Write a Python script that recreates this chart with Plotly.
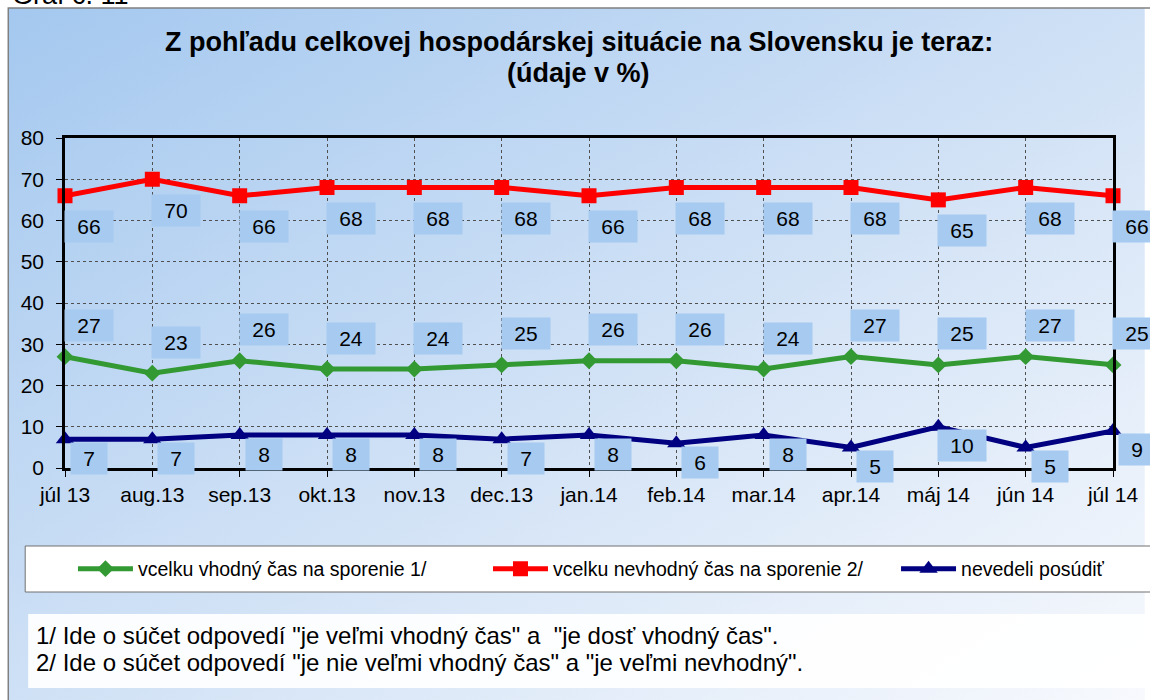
import base64
import plotly.graph_objects as go

# data (%)
months = ['júl 13', 'aug.13', 'sep.13', 'okt.13', 'nov.13', 'dec.13', 'jan.14',
          'feb.14', 'mar.14', 'apr.14', 'máj 14', 'jún 14', 'júl 14']
vhodny = [27, 23, 26, 24, 24, 25, 26, 26, 24, 27, 25, 27, 25]
nevhodny = [66, 70, 66, 68, 68, 68, 66, 68, 68, 68, 65, 68, 66]
nevedeli = [7, 7, 8, 8, 8, 7, 8, 6, 8, 5, 10, 5, 9]

names = ['vcelku vhodný čas na sporenie 1/',
         'vcelku nevhodný čas na sporenie 2/',
         'nevedeli posúdiť']
title_lines = ['Z pohľadu celkovej hospodárskej situácie na Slovensku je teraz:', '(údaje v %)']
notes = ['1/ Ide o súčet odpovedí "je veľmi vhodný čas" a  "je dosť vhodný čas".',
         '2/ Ide o súčet odpovedí "je nie veľmi vhodný čas" a "je veľmi nevhodný".']

W, H = 1150, 700
L, R, T, B = 65, 32, 138, 232
PW, PH = W - L - R, H - T - B
FONT = 'Liberation Sans, Arial, sans-serif'


def px(x):
    return (x - L) / PW


def py(y):
    return (H - B - y) / PH


fig = go.Figure()

# colour, marker, marker size, label shift x/y, legend id, legend x
series = [
    (vhodny, names[0], '#339933', 'diamond', 13, 24, 31, 'legend', 73),
    (nevhodny, names[1], '#ff0000', 'square', 15, 24, -31, 'legend2', 490),
    (nevedeli, names[2], '#000080', 'triangle-up', 16, 24, -19, 'legend3', 900),
]

annotations = []
legends = {}
for vals, name, col, sym, msize, dx, dy, leg, lx in series:
    fig.add_trace(go.Scatter(
        x=months, y=vals, name=name, mode='lines+markers',
        line=dict(color=col, width=5),
        marker=dict(symbol=sym, size=msize, color=col),
        cliponaxis=False, legend=leg,
    ))
    legends[leg] = dict(orientation='h', x=px(lx), y=py(569), xanchor='left', yanchor='middle',
                        bgcolor='rgba(0,0,0,0)', borderwidth=0, itemwidth=55,
                        font=dict(size=19.5, color='black', family=FONT))
    for m, v in zip(months, vals):
        t = str(v)
        annotations.append(dict(
            x=m, y=v, xref='x', yref='y', text=t, showarrow=False,
            xshift=dx, yshift=dy, bgcolor='#a6caf0', borderpad=4,
            width=12 * len(t) + 16, font=dict(size=21, color='black', family=FONT),
        ))

# title lines
for txt, yy in zip(title_lines, [42, 73]):
    annotations.append(dict(
        x=px(581), y=py(yy), xref='paper', yref='paper', xanchor='center', yanchor='middle',
        showarrow=False, text='<b>' + txt + '</b>',
        font=dict(size=27, color='black', family=FONT),
    ))

# footnotes
for txt, yy in zip(notes, [635, 662]):
    annotations.append(dict(
        x=px(34), y=py(yy), xref='paper', yref='paper', xanchor='left', yanchor='middle',
        showarrow=False, text=txt, font=dict(size=24, color='black', family=FONT),
    ))

# page caption, cut off at the top edge
annotations.append(dict(
    x=px(11), y=py(11), xref='paper', yref='paper', xanchor='left', yanchor='bottom',
    showarrow=False, text='Graf č. 11', borderpad=0,
    font=dict(size=27, color='black', family=FONT),
))

grad = ('<svg xmlns="http://www.w3.org/2000/svg" width="1142" height="692" '
        'preserveAspectRatio="none"><defs><linearGradient id="g" x1="0" y1="0" x2="1" y2="1">'
        '<stop offset="0" stop-color="#a4c8ef"/><stop offset="0.55" stop-color="#d3e3f6"/>'
        '<stop offset="1" stop-color="#f7f9fd"/></linearGradient></defs>'
        '<rect width="100%" height="100%" fill="url(#g)"/></svg>')
src = 'data:image/svg+xml;base64,' + base64.b64encode(grad.encode()).decode()

shapes = [
    # legend box
    dict(type='rect', xref='paper', yref='paper', x0=px(25), x1=px(1160), y0=py(546), y1=py(592),
         fillcolor='white', line=dict(color='#707070', width=1), layer='below'),
    # footnote box
    dict(type='rect', xref='paper', yref='paper', x0=px(28), x1=px(1160), y0=py(614), y1=py(688),
         fillcolor='rgba(255,255,255,0.92)', line=dict(width=0), layer='below'),
    # outer chart frame
    dict(type='rect', xref='paper', yref='paper', x0=px(8), x1=px(1165), y0=py(8), y1=py(715),
         fillcolor='rgba(0,0,0,0)', line=dict(color='#808080', width=1.5)),
]

fig.update_layout(
    width=W, height=H,
    margin=dict(l=L, r=R, t=T, b=B),
    paper_bgcolor='white', plot_bgcolor='rgba(0,0,0,0)',
    font=dict(family=FONT, color='black'),
    images=[dict(source=src, xref='paper', yref='paper', x=px(8), y=py(8),
                 sizex=(W - 8) / PW, sizey=(H - 8) / PH, sizing='stretch',
                 xanchor='left', yanchor='top', layer='below')],
    shapes=shapes,
    annotations=annotations,
    showlegend=True,
    **legends,
)

fig.update_xaxes(
    type='category', range=[0, len(months) - 1],
    showline=True, mirror=True, linecolor='black', linewidth=2.5,
    showgrid=True, gridcolor='#505050', griddash='dot', gridwidth=1,
    ticks='outside', ticklen=6, tickcolor='black',
    tickfont=dict(size=21, color='black', family=FONT),
)
fig.update_yaxes(
    range=[0, 80], dtick=10,
    showline=True, mirror=True, linecolor='black', linewidth=2.5,
    showgrid=True, gridcolor='#505050', griddash='dot', gridwidth=1,
    zeroline=False,
    ticks='outside', ticklen=6, tickcolor='black', ticklabelstandoff=8,
    tickfont=dict(size=21, color='black', family=FONT),
)

# the page is exactly 1150x700, so drop the browser's default body margin
fig.write_html('out.html', config={'displayModeBar': False},
               post_script="document.body.style.margin='0';")
